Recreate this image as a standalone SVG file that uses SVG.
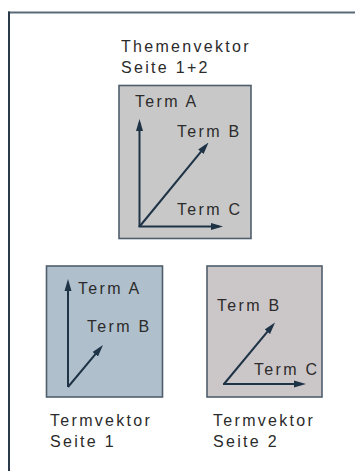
<svg xmlns="http://www.w3.org/2000/svg" width="355" height="471" viewBox="0 0 355 471">
<defs>
<style>
text{font-family:"Liberation Sans",Arial,sans-serif;font-size:16px;letter-spacing:2.3px;fill:#2b2b2b}
.box{stroke:#4f5e6c;stroke-width:1.6}
.arr{stroke:#1e3346;stroke-width:2;fill:none;marker-end:url(#ah)}
</style>
<marker id="ah" markerUnits="userSpaceOnUse" markerWidth="12" markerHeight="8" refX="8" refY="3.5" orient="auto" viewBox="0 0 12 7">
<path d="M0,0 L12,3.5 L0,7 z" fill="#1e3346"/>
</marker>
</defs>
<g id="frame">
<line x1="8" y1="12.5" x2="355" y2="12.5" stroke="#5a6a78" stroke-width="2"/>
<line x1="9" y1="11.5" x2="9" y2="471" stroke="#2a3a48" stroke-width="2"/>
</g>
<g id="themenvektor">
<text x="121" y="52">Themenvektor</text>
<text x="121" y="73">Seite 1+2</text>
<rect class="box" x="119" y="85.5" width="132" height="153" fill="#c8c8c8"/>
<text x="135" y="107">Term A</text>
<text x="177" y="137">Term B</text>
<text x="177" y="215">Term C</text>
</g>
<g id="seite1">
<rect class="box" x="46.5" y="266" width="116" height="131" fill="#afc0cc"/>
<text x="78" y="294">Term A</text>
<text x="87" y="332">Term B</text>
<text x="50" y="426">Termvektor</text>
<text x="50" y="447">Seite 1</text>
</g>
<g id="seite2">
<rect class="box" x="207" y="266" width="115" height="131" fill="#cbc6c8"/>
<text x="217" y="311">Term B</text>
<text x="254" y="375">Term C</text>
<text x="213" y="426">Termvektor</text>
<text x="213" y="447">Seite 2</text>
</g>
<g id="connectors">
<line class="arr" x1="139.5" y1="227" x2="139.5" y2="123"/>
<line class="arr" x1="138.5" y1="226.5" x2="219" y2="226.5"/>
<line class="arr" x1="140" y1="226" x2="205.96" y2="145.59"/>
<line class="arr" x1="68" y1="387" x2="68" y2="283"/>
<line class="arr" x1="68" y1="387" x2="100.44" y2="348.07"/>
<line class="arr" x1="224" y1="384" x2="272.45" y2="325.58"/>
<line class="arr" x1="223" y1="384" x2="302" y2="384"/>
</g>
</svg>
